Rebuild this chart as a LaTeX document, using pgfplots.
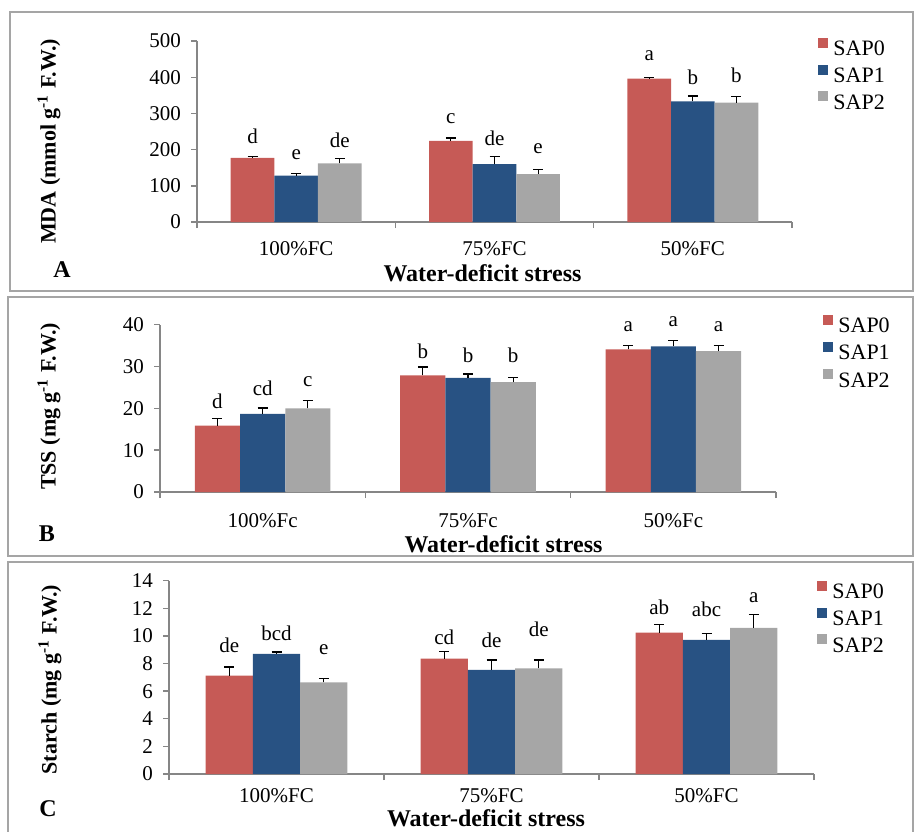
\documentclass[border=0pt]{standalone}
\usepackage{pgfplots}
\pgfplotsset{compat=1.18}
\usepackage{fontspec}
\setmainfont{Liberation Serif}
\definecolor{cR}{RGB}{198,90,86}
\definecolor{cB}{RGB}{40,82,131}
\definecolor{cG}{RGB}{166,166,166}
\definecolor{axg}{RGB}{134,134,134}
\definecolor{boxg}{RGB}{165,165,165}
\newcommand\fs[1]{\fontsize{#1}{#1}\selectfont}
\pgfplotsset{
 panel/.style={
  scale only axis, anchor=south west,
  ybar, bar width=0.22,
  xmin=-0.5, xmax=2.5, ymin=0,
  axis x line*=bottom, axis y line*=left,
  axis line style={draw=axg, line width=0.7pt},
  xtick={-0.5,0.5,1.5,2.5}, x tick label as interval,
  tick align=outside, major tick length=3pt,
  tick style={draw=axg, line width=0.7pt},
  xticklabel style={font=\fs{10.5}, anchor=base, yshift=-13.5pt},
  yticklabel style={font=\fs{10.5}, xshift=-1.5pt},
  /pgf/number format/assume math mode=true,
  clip=false,
  error bars/y dir=plus, error bars/y explicit,
  error bars/error bar style={black, line width=0.6pt},
  error bars/error mark options={black, line width=0.6pt, mark size=2.5pt, rotate=90},
  legend cell align=left,
 },
 lg/.style 2 args={legend style={draw=none, fill=none, font=\fs{11}, at={#1}, anchor=north west,
   inner sep=0pt, row sep=#2, column sep=2.5pt,
   nodes={inner sep=0pt, text height=7.5pt, text depth=2pt}}},
 s0/.style={fill=cR, draw=none, bar shift=-0.22, legend image code/.code={\fill[cR] (0pt,1.2pt) rectangle (5pt,6.2pt);}},
 s1/.style={fill=cB, draw=none, bar shift=0, legend image code/.code={\fill[cB] (0pt,1.2pt) rectangle (5pt,6.2pt);}},
 s2/.style={fill=cG, draw=none, bar shift=0.22, legend image code/.code={\fill[cG] (0pt,1.2pt) rectangle (5pt,6.2pt);}},
}
\begin{document}
\begin{tikzpicture}
\useasboundingbox (0pt,0pt) rectangle (457.5pt,-415.5pt);
% ---------- Panel A ----------
\begin{axis}[panel, at={(98.5pt,-111pt)}, width=297.5pt, height=90.5pt,
  ymax=500, ytick={0,100,...,500},
  xticklabels={100\%FC,75\%FC,50\%FC},
  lg={(1.0437,1.021)}{2.5pt}]
\addplot[s0] coordinates {(0,177) +- (0,5) (1,224) +- (0,8) (2,396) +- (0,4)};
\addplot[s1] coordinates {(0,128) +- (0,7) (1,160) +- (0,20) (2,333) +- (0,15)};
\addplot[s2] coordinates {(0,162) +- (0,13) (1,132) +- (0,12) (2,330) +- (0,16)};
\legend{SAP0,SAP1,SAP2}
\begin{scope}[every node/.style={font=\fs{10.5}}]
\node at (axis cs:-0.22,235.6) {d};
\node at (axis cs:0,185) {e};
\node at (axis cs:0.22,226.5) {de};
\node at (axis cs:0.78,286) {c};
\node at (axis cs:1,231) {de};
\node at (axis cs:1.22,203.6) {e};
\node at (axis cs:1.78,458.6) {a};
\node at (axis cs:2,401) {b};
\node at (axis cs:2.22,406) {b};
\end{scope}
\end{axis}
% ---------- Panel B ----------
\begin{axis}[panel, at={(80pt,-246pt)}, width=308pt, height=83.65pt,
  ymax=40, ytick={0,10,...,40},
  xticklabels={100\%Fc,75\%Fc,50\%Fc},
  xticklabel style={yshift=-1.25pt},
  lg={(1.0763,1.0628)}{2.75pt}]
\addplot[s0] coordinates {(0,15.9) +- (0,1.7) (1,27.9) +- (0,2.0) (2,34.1) +- (0,0.9)};
\addplot[s1] coordinates {(0,18.7) +- (0,1.4) (1,27.3) +- (0,0.9) (2,34.8) +- (0,1.4)};
\addplot[s2] coordinates {(0,20.0) +- (0,1.8) (1,26.3) +- (0,1.0) (2,33.7) +- (0,1.3)};
\legend{SAP0,SAP1,SAP2}
\begin{scope}[every node/.style={font=\fs{10.5}}]
\node at (axis cs:-0.22,21.6) {d};
\node at (axis cs:0,24.8) {cd};
\node at (axis cs:0.22,26.4) {c};
\node at (axis cs:0.78,33.6) {b};
\node at (axis cs:1,32.8) {b};
\node at (axis cs:1.22,32.8) {b};
\node at (axis cs:1.78,39.5) {a};
\node at (axis cs:2,40.7) {a};
\node at (axis cs:2.22,39.5) {a};
\end{scope}
\end{axis}
% ---------- Panel C ----------
\begin{axis}[panel, at={(84.5pt,-387pt)}, width=322.5pt, height=96.65pt,
  ymax=14, ytick={0,2,...,14},
  xticklabels={100\%FC,75\%FC,50\%FC},
  xticklabel style={yshift=2.5pt},
  lg={(1.0047,1.0026)}{2.5pt}]
\addplot[s0] coordinates {(0,7.12) +- (0,0.63) (1,8.35) +- (0,0.5) (2,10.24) +- (0,0.58)};
\addplot[s1] coordinates {(0,8.70) +- (0,0.14) (1,7.54) +- (0,0.72) (2,9.71) +- (0,0.48)};
\addplot[s2] coordinates {(0,6.64) +- (0,0.27) (1,7.66) +- (0,0.6) (2,10.58) +- (0,0.97)};
\legend{SAP0,SAP1,SAP2}
\begin{scope}[every node/.style={font=\fs{10.5}}]
\node at (axis cs:-0.22,9.35) {de};
\node at (axis cs:0,10.2) {bcd};
\node at (axis cs:0.22,9.0) {e};
\node at (axis cs:0.78,9.9) {cd};
\node at (axis cs:1,9.66) {de};
\node at (axis cs:1.22,10.5) {de};
\node at (axis cs:1.78,12.1) {ab};
\node at (axis cs:2,11.9) {abc};
\node at (axis cs:2.22,12.8) {a};
\end{scope}
\end{axis}
% ---------- frames and texts (pixel units) ----------
\begin{scope}[x=0.5pt, y=-0.5pt]
\draw[boxg, line width=0.7pt] (10,12) rectangle (913,291);
\draw[boxg, line width=0.7pt] (8,297) rectangle (913,556);
\draw[boxg, line width=0.7pt] (8,562) rectangle (913,834);
\node[font=\bfseries\fs{11}, rotate=90] at (49,141.5) {MDA (mmol g\textsuperscript{-1} F.W.)};
\node[font=\bfseries\fs{11}, rotate=90] at (49,406.5) {TSS (mg g\textsuperscript{-1} F.W.)};
\node[font=\bfseries\fs{11}, rotate=90] at (50,679.5) {Starch (mg g\textsuperscript{-1} F.W.)};
\node[font=\bfseries\fs{12}, anchor=base] at (482.5,281) {Water-deficit stress};
\node[font=\bfseries\fs{12}, anchor=base] at (503.5,552) {Water-deficit stress};
\node[font=\bfseries\fs{12}, anchor=base] at (486,826) {Water-deficit stress};
\node[font=\bfseries\fs{12}, anchor=base] at (62,277) {A};
\node[font=\bfseries\fs{12}, anchor=base] at (47,541) {B};
\node[font=\bfseries\fs{12}, anchor=base] at (48,816) {C};
\end{scope}
\end{tikzpicture}
\end{document}
